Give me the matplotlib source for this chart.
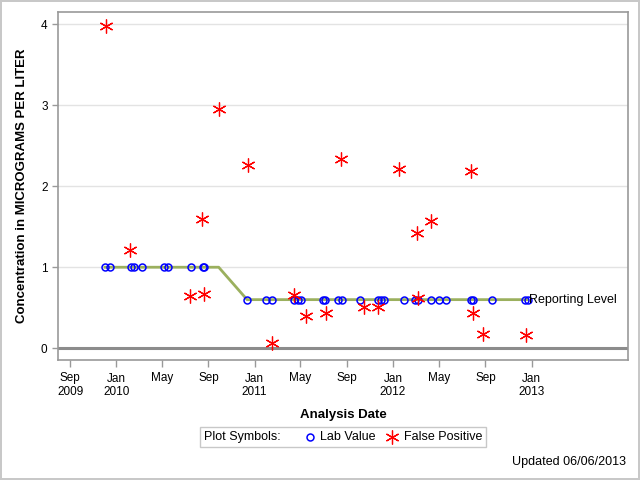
import matplotlib
matplotlib.use("Agg")
import matplotlib.pyplot as plt
from matplotlib.lines import Line2D
from matplotlib.patches import Rectangle
import pandas as pd

plt.rcParams["font.family"] = ["Liberation Sans", "DejaVu Sans"]

# lab values (non-detects, plotted at reporting level)
lab_dates = ["2009-12-02", "2009-12-15", "2010-02-08", "2010-02-16", "2010-03-10",
             "2010-05-08", "2010-05-18", "2010-07-17", "2010-08-17", "2010-08-20",
             "2010-12-12", "2011-01-31", "2011-02-17", "2011-04-14", "2011-04-25",
             "2011-05-04", "2011-06-29", "2011-07-05", "2011-08-10", "2011-08-19",
             "2011-10-05", "2011-11-23", "2011-11-30", "2011-12-07", "2012-01-31",
             "2012-02-28", "2012-03-06", "2012-04-09", "2012-05-02", "2012-05-21",
             "2012-07-26", "2012-07-31", "2012-09-17", "2012-12-13", "2012-12-21"]
lab_values = [1.0] * 10 + [0.6] * 25

# false positives
fp_dates = ["2009-12-05", "2010-02-07", "2010-07-15", "2010-08-16", "2010-08-19",
            "2010-09-28", "2010-12-14", "2011-02-17", "2011-04-14", "2011-05-17",
            "2011-07-07", "2011-08-17", "2011-10-17", "2011-11-23", "2012-01-16",
            "2012-03-05", "2012-03-06", "2012-04-09", "2012-07-26", "2012-07-29",
            "2012-08-25", "2012-12-18"]
fp_values = [3.98, 1.21, 0.64, 1.59, 0.67,
             2.95, 2.26, 0.06, 0.66, 0.40,
             0.44, 2.33, 0.51, 0.51, 2.21,
             1.42, 0.62, 1.57, 2.19, 0.44,
             0.18, 0.16]

# reporting level line
rl_dates = ["2009-12-02", "2010-09-28", "2010-12-12", "2012-12-21"]
rl_values = [1.0, 1.0, 0.6, 0.6]

tick_dates = ["2009-09-01", "2010-01-01", "2010-05-01", "2010-09-01", "2011-01-01",
              "2011-05-01", "2011-09-01", "2012-01-01", "2012-05-01", "2012-09-01",
              "2013-01-01"]
tick_labels = ["Sep\n2009", "Jan\n2010", "May", "Sep", "Jan\n2011", "May", "Sep",
               "Jan\n2012", "May", "Sep", "Jan\n2013"]

lab_dates = pd.to_datetime(lab_dates)
fp_dates = pd.to_datetime(fp_dates)
rl_dates = pd.to_datetime(rl_dates)

LAB = dict(ls="none", marker="o", ms=5, mfc="none", mec="#0000ff", mew=1.1)
FP = dict(ls="none", marker=(6, 2, 0), ms=10, mec="#ff0000", mew=0.9)

fig = plt.figure(figsize=(6.4, 4.8), dpi=100)
fig.patch.set_edgecolor("#c8c8c8")
fig.patch.set_linewidth(1.5)
ax = fig.add_axes([0.0906, 0.25, 0.8906, 0.725])

ax.set_xlim(pd.Timestamp("2009-07-31"), pd.Timestamp("2013-09-12"))
ax.set_ylim(-0.145, 4.15)

for y in [1, 2, 3, 4]:
    ax.axhline(y, color="#e3e3e3", lw=1, zorder=0)
ax.axhline(0, color="#8c8c8c", lw=2.2, zorder=1)

ax.plot(rl_dates, rl_values, color="#9bb05e", lw=2, zorder=2)
ax.plot(lab_dates, lab_values, zorder=3, **LAB)
ax.plot(fp_dates, fp_values, zorder=4, **FP)

ax.text(rl_dates[-1] + pd.Timedelta(days=5), 0.6, "Reporting Level", fontsize=9,
        va="center", ha="left")

ax.set_yticks([0, 1, 2, 3, 4])
ax.set_xticks(pd.to_datetime(tick_dates))
ax.set_xticklabels(tick_labels, fontsize=8.5)
ax.tick_params(axis="y", labelsize=8.5, colors="#999999", labelcolor="black",
               length=4, width=1)
ax.tick_params(axis="x", colors="#999999", labelcolor="black", length=5, width=1, pad=4)
for s in ax.spines.values():
    s.set_color("#999999")
    s.set_linewidth(1.2)

ax.set_ylabel("Concentration in MICROGRAMS PER LITER", fontsize=9.5,
              fontweight="bold", labelpad=9)
ax.set_xlabel("Analysis Date", fontsize=9.5, fontweight="bold", labelpad=8)

# legend box, drawn by hand so "Plot Symbols:" has no handle
W, H = 640, 480
fig.add_artist(Rectangle((200 / W, 1 - 447 / H), 286 / W, 20 / H, transform=fig.transFigure,
                         fill=False, edgecolor="#c8c8c8", lw=1))
ly = 1 - 437 / H
fig.text(204 / W, ly, "Plot Symbols:", fontsize=9, va="center")
fig.add_artist(Line2D([310 / W], [ly], transform=fig.transFigure, **LAB))
fig.text(320 / W, ly, "Lab Value", fontsize=9, va="center")
fig.add_artist(Line2D([392 / W], [ly], transform=fig.transFigure, **FP))
fig.text(404 / W, ly, "False Positive", fontsize=9, va="center")

fig.text(626 / W, 1 - 462 / H, "Updated 06/06/2013", ha="right", va="center",
         fontsize=9)

fig.savefig("out.png", dpi=100)
